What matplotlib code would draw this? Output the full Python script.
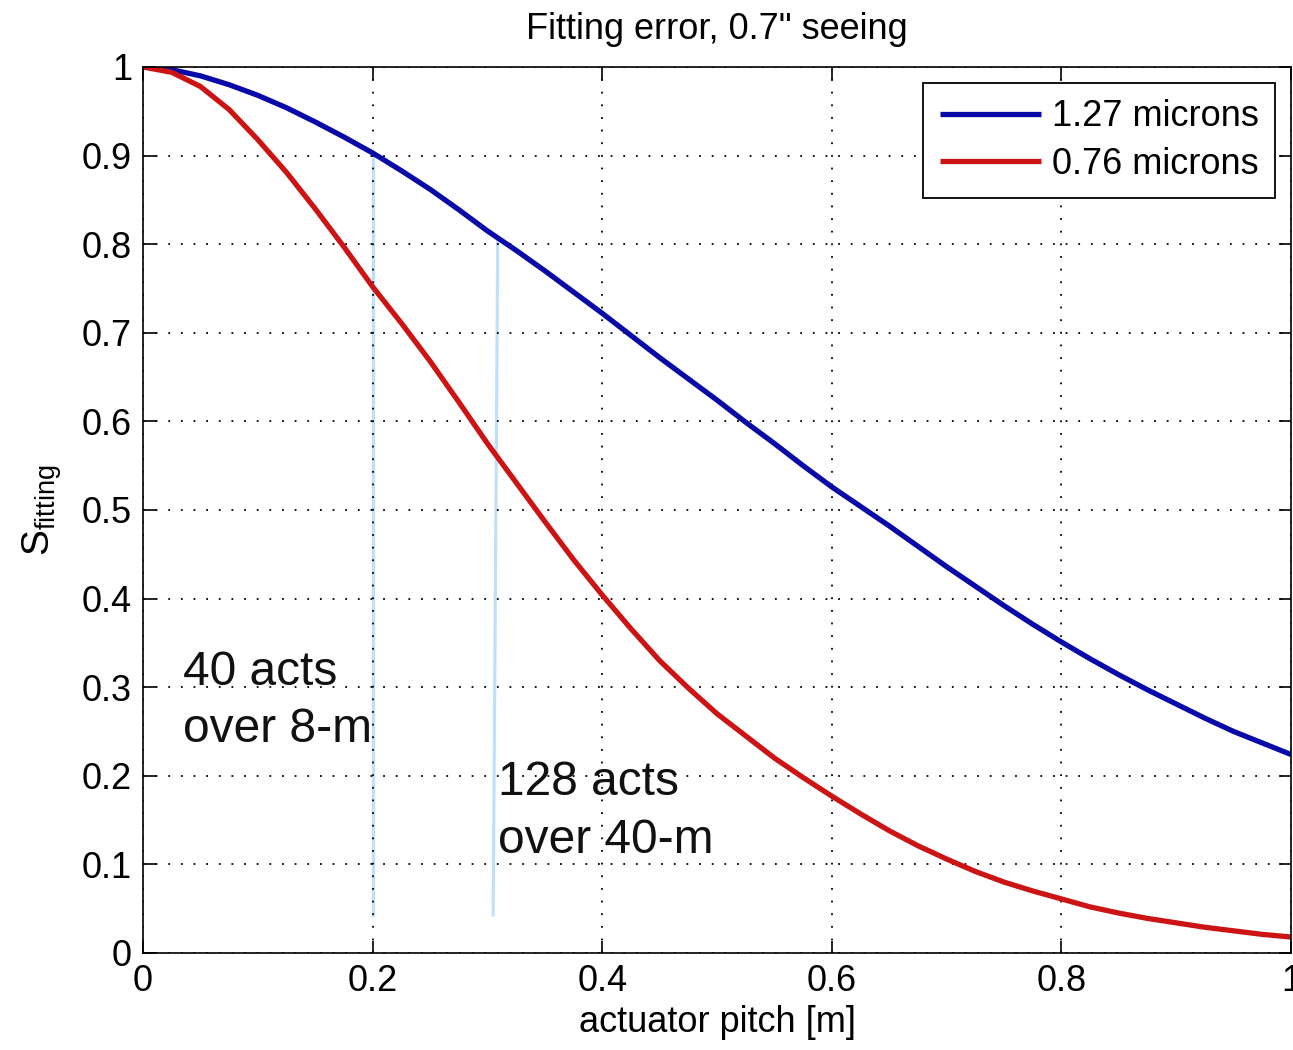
import matplotlib
matplotlib.use("Agg")
import matplotlib.pyplot as plt

plt.rcParams['font.family'] = ['Liberation Sans', 'DejaVu Sans']
plt.rcParams['mathtext.default'] = 'regular'

# Data
pitch = [0.0, 0.025, 0.05, 0.075, 0.10, 0.125, 0.15, 0.175, 0.20, 0.225, 0.25,
         0.275, 0.30, 0.325, 0.35, 0.375, 0.40, 0.425, 0.45, 0.475, 0.50,
         0.525, 0.55, 0.575, 0.60, 0.625, 0.65, 0.675, 0.70, 0.725, 0.75,
         0.775, 0.80, 0.825, 0.85, 0.875, 0.90, 0.925, 0.95, 0.975, 1.00]
s_127 = [1.000, 0.997, 0.990, 0.980, 0.968, 0.954, 0.938, 0.921, 0.903, 0.883, 0.862,
         0.839, 0.815, 0.793, 0.770, 0.746, 0.722, 0.697, 0.672, 0.648, 0.624,
         0.599, 0.575, 0.550, 0.526, 0.504, 0.482, 0.459, 0.436, 0.414, 0.392,
         0.371, 0.351, 0.332, 0.314, 0.297, 0.281, 0.265, 0.250, 0.237, 0.224]
s_076 = [1.000, 0.994, 0.978, 0.952, 0.918, 0.881, 0.840, 0.797, 0.752, 0.711, 0.668,
         0.622, 0.575, 0.531, 0.487, 0.444, 0.404, 0.366, 0.330, 0.299, 0.270,
         0.245, 0.220, 0.198, 0.177, 0.157, 0.138, 0.121, 0.106, 0.092, 0.080,
         0.070, 0.061, 0.052, 0.045, 0.039, 0.034, 0.029, 0.025, 0.021, 0.018]
labels = ['1.27 microns', '0.76 microns']

marker_x = [[0.2003, 0.2003], [0.309, 0.305]]
marker_y = [[0.903, 0.043], [0.806, 0.043]]

notes = [(0.035, 0.302, '40 acts'), (0.035, 0.238, 'over 8-m'),
         (0.309, 0.178, '128 acts'), (0.309, 0.113, 'over 40-m')]

xticks = [0, 0.2, 0.4, 0.6, 0.8, 1]
xticklabels = ['0', '0.2', '0.4', '0.6', '0.8', '1']
yticks = [0, 0.1, 0.2, 0.3, 0.4, 0.5, 0.6, 0.7, 0.8, 0.9, 1]
yticklabels = ['0', '0.1', '0.2', '0.3', '0.4', '0.5', '0.6', '0.7', '0.8', '0.9', '1']

fig = plt.figure(figsize=(12.93, 10.5), dpi=100)
ax = fig.add_axes([0.1106, 0.0924, 0.8879, 0.8438])

ax.plot(pitch, s_127, color='#0a0aa8', lw=3.8, label=labels[0], solid_capstyle='butt')
ax.plot(pitch, s_076, color='#cc1414', lw=3.8, label=labels[1], solid_capstyle='butt')

for mx, my in zip(marker_x, marker_y):
    ax.plot(mx, my, color='#bfe0f8', lw=2.3, zorder=1)

for x, y, t in notes:
    ax.text(x, y, t, fontsize=34.5, color='#111111', va='baseline', ha='left')

ax.set_xlim(0, 1)
ax.set_ylim(0, 1)
ax.set_xticks(xticks)
ax.set_xticklabels(xticklabels)
ax.set_yticks(yticks)
ax.set_yticklabels(yticklabels)
ax.tick_params(direction='in', length=9, width=1.2, labelsize=26, top=True, right=True, pad=8)
ax.grid(True, color='black', linestyle=(0, (1, 6)), linewidth=1.3)
for s in ax.spines.values():
    s.set_linewidth(1.2)

ax.set_title('Fitting error, 0.7" seeing', fontsize=26, pad=20)
ax.set_xlabel('actuator pitch [m]', fontsize=26, labelpad=4)
ax.set_ylabel(r'$S_{fitting}$', fontsize=28, labelpad=13)

leg = ax.legend(loc='upper right', fontsize=26, fancybox=False, edgecolor='black',
                framealpha=1, handlelength=2.8, handletextpad=0.3, labelspacing=0.35,
                borderaxespad=0.45, borderpad=0.45)
leg.get_frame().set_linewidth(1.3)

fig.savefig('out.png', dpi=100)
